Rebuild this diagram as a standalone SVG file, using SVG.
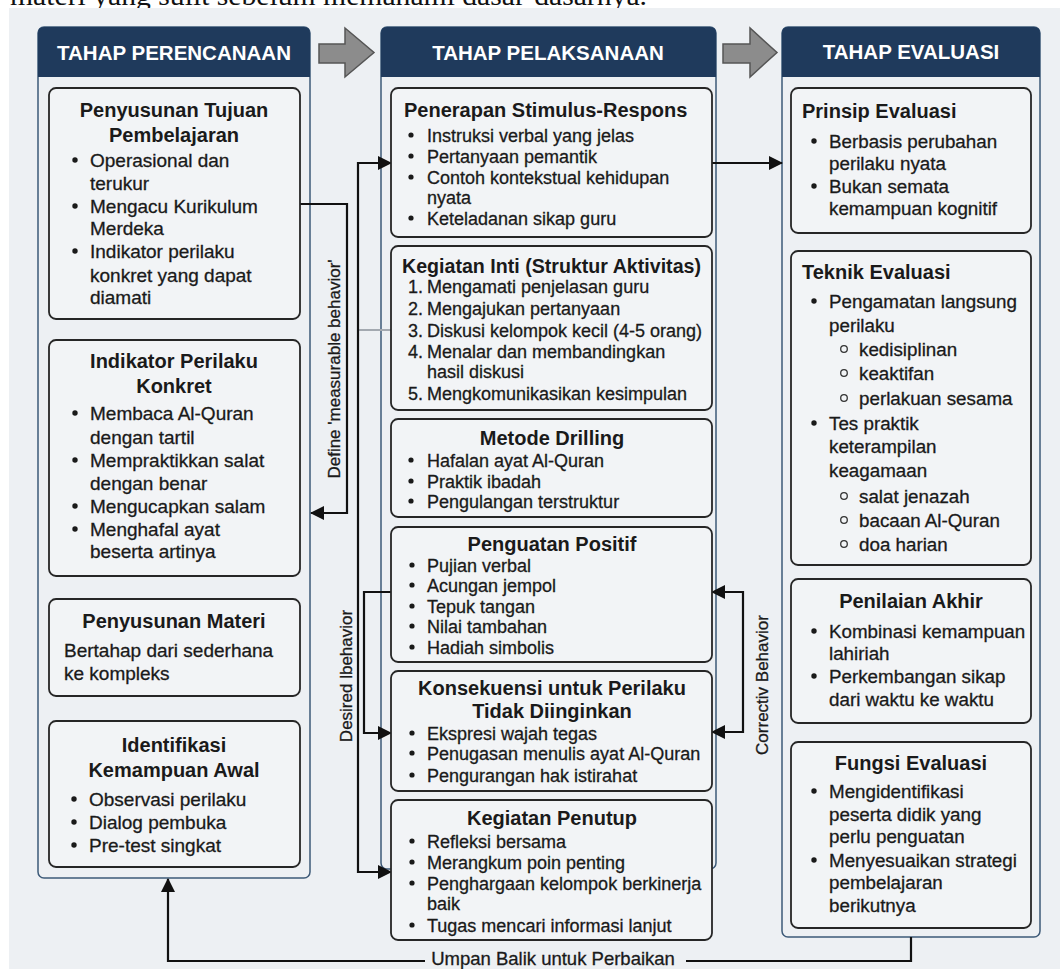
<svg xmlns="http://www.w3.org/2000/svg" width="1060" height="969" viewBox="0 0 1060 969">
<style>
text{font-family:"Liberation Sans",Arial,sans-serif;fill:#1a1a1a}
.top{font-family:"Liberation Serif","Times New Roman",serif;font-size:28px;fill:#111}
.hd{font-size:20.5px;font-weight:bold;fill:#fff;text-anchor:middle}
.ti{font-size:20px;font-weight:bold}
.c{text-anchor:middle}
.bl,.bm,.br,.lb,.fb{stroke:#1a1a1a;stroke-width:0.3}
.bl{font-size:19px}
.bm{font-size:18px}
.br{font-size:18.8px}
.lb{font-size:17px;text-anchor:middle}
.fb{font-size:18.5px;text-anchor:middle}
.box{fill:#f2f4f6;stroke:#262626;stroke-width:1.8}
.panel{fill:#edf0f3;stroke:#3d5a78;stroke-width:1.5}
.hdr{fill:#1f3a5c}
.dot{fill:#1a1a1a}
.sub{fill:none;stroke:#333;stroke-width:1.3}
.con{fill:none;stroke:#111;stroke-width:2.2}
.gry{fill:none;stroke:#a3a9b0;stroke-width:2}
.blk{fill:#8c8c8c;stroke:#555;stroke-width:1.5}
</style>
<defs>
<marker id="ah" viewBox="0 0 14 14" refX="13" refY="7" markerWidth="14" markerHeight="14" markerUnits="userSpaceOnUse" orient="auto-start-reverse"><path d="M0,0 L14,7 L0,14 z" fill="#111"/></marker>
</defs>
<text class="top" x="10" y="5" textLength="637" lengthAdjust="spacingAndGlyphs">materi yang sulit sebelum memahami dasar-dasarnya.</text>
<rect x="9" y="8" width="1051" height="961" fill="#edf0f3"/>

<g id="phase-arrows">
<polygon class="blk" points="319,44 345,44 345,28 374,52.5 345,77 345,63 319,63"/>
<polygon class="blk" points="723,44 750,44 750,28 777,52.5 750,77 750,63 723,63"/>
</g>

<g id="panel-perencanaan">
<rect class="panel" x="38" y="27" width="272" height="851" rx="6"/>
<path class="hdr" d="M38,77 V33 Q38,27 44,27 H304 Q310,27 310,33 V77 Z"/>
<text class="hd" x="174" y="60">TAHAP PERENCANAAN</text>
</g>
<g id="panel-pelaksanaan">
<rect class="panel" x="381" y="27" width="335" height="842" rx="6"/>
<path class="hdr" d="M381,77 V33 Q381,27 387,27 H710 Q716,27 716,33 V77 Z"/>
<text class="hd" x="548" y="60">TAHAP PELAKSANAAN</text>
</g>
<g id="panel-evaluasi">
<rect class="panel" x="782" y="27" width="258" height="910" rx="6"/>
<path class="hdr" d="M782,77 V33 Q782,27 788,27 H1034 Q1040,27 1040,33 V77 Z"/>
<text class="hd" x="911" y="59">TAHAP EVALUASI</text>
</g>

<g id="connectors">
<path class="gry" d="M358,330 H391"/>
<path class="con" d="M300,204 H347 V513 H311" marker-end="url(#ah)"/>
<path class="con" d="M391,163 H358 V872 H391" marker-start="url(#ah)" marker-end="url(#ah)"/>
<path class="con" d="M391,592 H364 V733 H391" marker-end="url(#ah)"/>
<path class="con" d="M712,592 H743 V732 H712" marker-start="url(#ah)" marker-end="url(#ah)"/>
<path class="con" d="M712,163 H782" marker-end="url(#ah)"/>
<path class="con" d="M911,937 V961 H686"/>
<path class="con" d="M425,961 H168 V879" marker-end="url(#ah)"/>
<text class="lb" transform="translate(340,369) rotate(-90)">Define 'measurable behavior'</text>
<text class="lb" transform="translate(352,676) rotate(-90)">Desired lbehavior</text>
<text class="lb" transform="translate(768,685) rotate(-90)">Correctiv Behavior</text>
<text class="fb" x="553" y="965">Umpan Balik untuk Perbaikan</text>
</g>

<g id="penyusunan-tujuan">
<rect class="box" x="49" y="88" width="251" height="231" rx="7"/>
<text class="ti c" x="174" y="117">Penyusunan Tujuan</text>
<text class="ti c" x="174" y="142">Pembelajaran</text>
<circle class="dot" cx="75" cy="160" r="2.7"/><circle class="dot" cx="75" cy="206" r="2.7"/><circle class="dot" cx="75" cy="251" r="2.7"/>
<text class="bl" x="90" y="167">Operasional dan</text>
<text class="bl" x="90" y="190">terukur</text>
<text class="bl" x="90" y="213">Mengacu Kurikulum</text>
<text class="bl" x="90" y="235">Merdeka</text>
<text class="bl" x="90" y="258">Indikator perilaku</text>
<text class="bl" x="90" y="282">konkret yang dapat</text>
<text class="bl" x="90" y="304">diamati</text>
</g>

<g id="indikator-perilaku">
<rect class="box" x="49" y="340" width="251" height="236" rx="7"/>
<text class="ti c" x="174" y="368">Indikator Perilaku</text>
<text class="ti c" x="174" y="393">Konkret</text>
<circle class="dot" cx="75" cy="413" r="2.7"/><circle class="dot" cx="75" cy="460" r="2.7"/><circle class="dot" cx="75" cy="506" r="2.7"/><circle class="dot" cx="75" cy="529" r="2.7"/>
<text class="bl" x="90" y="420">Membaca Al-Quran</text>
<text class="bl" x="90" y="444">dengan tartil</text>
<text class="bl" x="90" y="467">Mempraktikkan salat</text>
<text class="bl" x="90" y="490">dengan benar</text>
<text class="bl" x="90" y="513">Mengucapkan salam</text>
<text class="bl" x="90" y="536">Menghafal ayat</text>
<text class="bl" x="90" y="558">beserta artinya</text>
</g>

<g id="penyusunan-materi">
<rect class="box" x="49" y="599" width="251" height="97" rx="7"/>
<text class="ti c" x="174" y="628">Penyusunan Materi</text>
<text class="bl" x="64" y="657">Bertahap dari sederhana</text>
<text class="bl" x="64" y="680">ke kompleks</text>
</g>

<g id="identifikasi-kemampuan">
<rect class="box" x="49" y="721" width="251" height="146" rx="7"/>
<text class="ti c" x="174" y="752">Identifikasi</text>
<text class="ti c" x="174" y="777">Kemampuan Awal</text>
<circle class="dot" cx="74" cy="799" r="2.7"/><circle class="dot" cx="74" cy="822" r="2.7"/><circle class="dot" cx="74" cy="845" r="2.7"/>
<text class="bl" x="89" y="806">Observasi perilaku</text>
<text class="bl" x="89" y="829">Dialog pembuka</text>
<text class="bl" x="89" y="852">Pre-test singkat</text>
</g>

<g id="penerapan-stimulus">
<rect class="box" x="391" y="88" width="321" height="149" rx="7"/>
<text class="ti" x="404" y="117">Penerapan Stimulus-Respons</text>
<circle class="dot" cx="411" cy="135" r="2.6"/><circle class="dot" cx="411" cy="156" r="2.6"/><circle class="dot" cx="411" cy="177" r="2.6"/><circle class="dot" cx="411" cy="218" r="2.6"/>
<text class="bm" x="427" y="142">Instruksi verbal yang jelas</text>
<text class="bm" x="427" y="163">Pertanyaan pemantik</text>
<text class="bm" x="427" y="184">Contoh kontekstual kehidupan</text>
<text class="bm" x="427" y="204">nyata</text>
<text class="bm" x="427" y="225">Keteladanan sikap guru</text>
</g>

<g id="kegiatan-inti">
<rect class="box" x="391" y="246" width="321" height="164" rx="7"/>
<text class="ti" x="402" y="273" textLength="299" lengthAdjust="spacingAndGlyphs">Kegiatan Inti (Struktur Aktivitas)</text>
<text class="bm" x="408" y="293">1.</text><text class="bm" x="427" y="293">Mengamati penjelasan guru</text>
<text class="bm" x="408" y="315">2.</text><text class="bm" x="427" y="315">Mengajukan pertanyaan</text>
<text class="bm" x="408" y="337">3.</text><text class="bm" x="427" y="337">Diskusi kelompok kecil (4-5 orang)</text>
<text class="bm" x="408" y="358">4.</text><text class="bm" x="427" y="358">Menalar dan membandingkan</text>
<text class="bm" x="427" y="378">hasil diskusi</text>
<text class="bm" x="408" y="400">5.</text><text class="bm" x="427" y="400">Mengkomunikasikan kesimpulan</text>
</g>

<g id="metode-drilling">
<rect class="box" x="391" y="419" width="321" height="98" rx="7"/>
<text class="ti c" x="552" y="445">Metode Drilling</text>
<circle class="dot" cx="411" cy="460" r="2.6"/><circle class="dot" cx="411" cy="481" r="2.6"/><circle class="dot" cx="411" cy="501" r="2.6"/>
<text class="bm" x="427" y="467">Hafalan ayat Al-Quran</text>
<text class="bm" x="427" y="488">Praktik ibadah</text>
<text class="bm" x="427" y="508">Pengulangan terstruktur</text>
</g>

<g id="penguatan-positif">
<rect class="box" x="391" y="527" width="321" height="135" rx="7"/>
<text class="ti c" x="552" y="551">Penguatan Positif</text>
<circle class="dot" cx="412" cy="565" r="2.6"/><circle class="dot" cx="412" cy="585" r="2.6"/><circle class="dot" cx="412" cy="606" r="2.6"/><circle class="dot" cx="412" cy="626" r="2.6"/><circle class="dot" cx="412" cy="647" r="2.6"/>
<text class="bm" x="427" y="572">Pujian verbal</text>
<text class="bm" x="427" y="592">Acungan jempol</text>
<text class="bm" x="427" y="613">Tepuk tangan</text>
<text class="bm" x="427" y="633">Nilai tambahan</text>
<text class="bm" x="427" y="654">Hadiah simbolis</text>
</g>

<g id="konsekuensi">
<rect class="box" x="391" y="671" width="321" height="120" rx="7"/>
<text class="ti c" x="552" y="695">Konsekuensi untuk Perilaku</text>
<text class="ti c" x="552" y="718">Tidak Diinginkan</text>
<circle class="dot" cx="412" cy="733" r="2.6"/><circle class="dot" cx="412" cy="753" r="2.6"/><circle class="dot" cx="412" cy="775" r="2.6"/>
<text class="bm" x="427" y="740">Ekspresi wajah tegas</text>
<text class="bm" x="427" y="760">Penugasan menulis ayat Al-Quran</text>
<text class="bm" x="427" y="782">Pengurangan hak istirahat</text>
</g>

<g id="kegiatan-penutup">
<rect class="box" x="391" y="800" width="321" height="140" rx="7"/>
<text class="ti c" x="552" y="825">Kegiatan Penutup</text>
<circle class="dot" cx="412" cy="841" r="2.6"/><circle class="dot" cx="412" cy="862" r="2.6"/><circle class="dot" cx="412" cy="883" r="2.6"/><circle class="dot" cx="412" cy="925" r="2.6"/>
<text class="bm" x="427" y="848">Refleksi bersama</text>
<text class="bm" x="427" y="869">Merangkum poin penting</text>
<text class="bm" x="427" y="890">Penghargaan kelompok berkinerja</text>
<text class="bm" x="427" y="910">baik</text>
<text class="bm" x="427" y="932">Tugas mencari informasi lanjut</text>
</g>

<g id="prinsip-evaluasi">
<rect class="box" x="791" y="88" width="240" height="145" rx="7"/>
<text class="ti" x="802" y="118">Prinsip Evaluasi</text>
<circle class="dot" cx="814" cy="141" r="2.7"/><circle class="dot" cx="814" cy="186" r="2.7"/>
<text class="br" x="829" y="148">Berbasis perubahan</text>
<text class="br" x="829" y="170">perilaku nyata</text>
<text class="br" x="829" y="193">Bukan semata</text>
<text class="br" x="829" y="215">kemampuan kognitif</text>
</g>

<g id="teknik-evaluasi">
<rect class="box" x="791" y="251" width="240" height="314" rx="7"/>
<text class="ti" x="802" y="279">Teknik Evaluasi</text>
<circle class="dot" cx="814" cy="301" r="2.7"/><circle class="dot" cx="814" cy="423" r="2.7"/>
<circle class="sub" cx="844" cy="349" r="3.3"/><circle class="sub" cx="844" cy="373" r="3.3"/><circle class="sub" cx="844" cy="398" r="3.3"/>
<circle class="sub" cx="844" cy="496" r="3.3"/><circle class="sub" cx="844" cy="520" r="3.3"/><circle class="sub" cx="844" cy="544" r="3.3"/>
<text class="br" x="829" y="308">Pengamatan langsung</text>
<text class="br" x="829" y="332">perilaku</text>
<text class="br" x="859" y="356">kedisiplinan</text>
<text class="br" x="859" y="380">keaktifan</text>
<text class="br" x="859" y="405">perlakuan sesama</text>
<text class="br" x="829" y="430">Tes praktik</text>
<text class="br" x="829" y="453">keterampilan</text>
<text class="br" x="829" y="477">keagamaan</text>
<text class="br" x="859" y="503">salat jenazah</text>
<text class="br" x="859" y="527">bacaan Al-Quran</text>
<text class="br" x="859" y="551">doa harian</text>
</g>

<g id="penilaian-akhir">
<rect class="box" x="791" y="579" width="240" height="144" rx="7"/>
<text class="ti c" x="911" y="608">Penilaian Akhir</text>
<circle class="dot" cx="814" cy="631" r="2.7"/><circle class="dot" cx="814" cy="676" r="2.7"/>
<text class="br" x="829" y="638">Kombinasi kemampuan</text>
<text class="br" x="829" y="660">lahiriah</text>
<text class="br" x="829" y="683">Perkembangan sikap</text>
<text class="br" x="829" y="706">dari waktu ke waktu</text>
</g>

<g id="fungsi-evaluasi">
<rect class="box" x="791" y="742" width="240" height="186" rx="7"/>
<text class="ti c" x="911" y="770">Fungsi Evaluasi</text>
<circle class="dot" cx="814" cy="791" r="2.7"/><circle class="dot" cx="814" cy="860" r="2.7"/>
<text class="br" x="829" y="798">Mengidentifikasi</text>
<text class="br" x="829" y="821">peserta didik yang</text>
<text class="br" x="829" y="843">perlu penguatan</text>
<text class="br" x="829" y="867">Menyesuaikan strategi</text>
<text class="br" x="829" y="889">pembelajaran</text>
<text class="br" x="829" y="912">berikutnya</text>
</g>
</svg>
